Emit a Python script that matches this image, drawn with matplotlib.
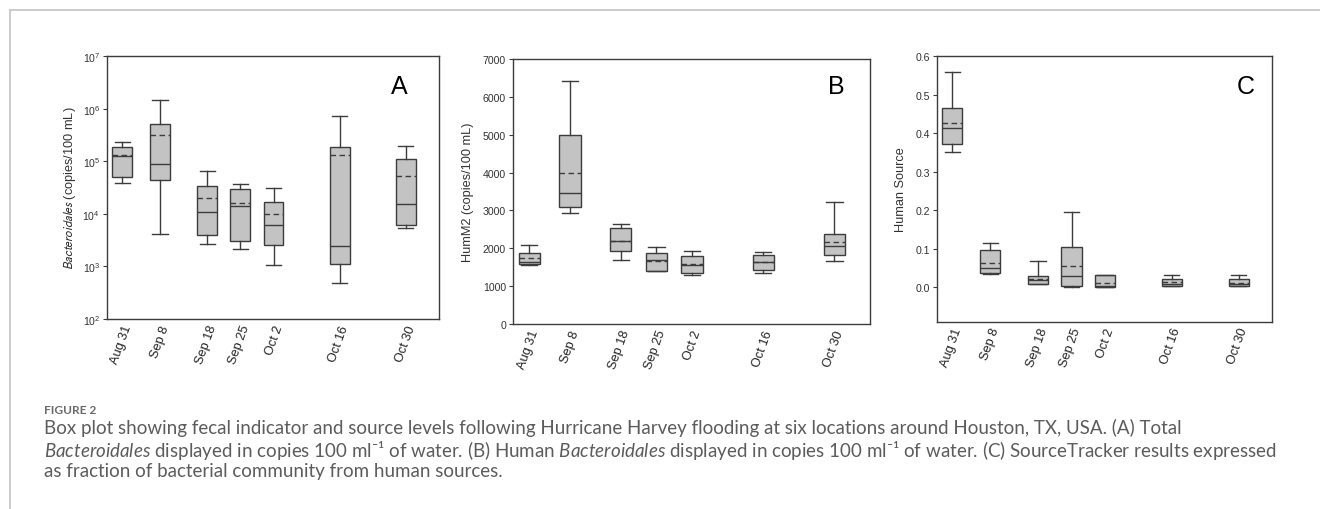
import pandas as pd
import matplotlib.pyplot as plt
from matplotlib.lines import Line2D

plt.rcParams['font.family'] = ['Liberation Sans', 'DejaVu Sans']
plt.rcParams['mathtext.fontset'] = 'custom'
plt.rcParams['mathtext.rm'] = 'Lato'
plt.rcParams['mathtext.it'] = 'Lato:italic'

# 采样日期
dates = ['2017-08-31', '2017-09-08', '2017-09-18', '2017-09-25',
         '2017-10-02', '2017-10-16', '2017-10-30']
labels = ['Aug 31', 'Sep 8', 'Sep 18', 'Sep 25', 'Oct 2', 'Oct 16', 'Oct 30']

# A: Bacteroidales (copies/100 mL)
a_whishi = [2.3e5, 1.45e6, 6.6e4, 3.77e4, 3.07e4, 7.3e5, 1.99e5]
a_q3 = [1.85e5, 5.15e5, 3.4e4, 2.94e4, 1.66e4, 1.88e5, 1.08e5]
a_mean = [1.29e5, 3.13e5, 1.98e4, 1.64e4, 9.8e3, 1.29e5, 5.27e4]
a_med = [1.27e5, 8.8e4, 1.07e4, 1.4e4, 6.15e3, 2.45e3, 1.52e4]
a_q1 = [5.1e4, 4.4e4, 4.03e3, 3.1e3, 2.6e3, 1.13e3, 6.25e3]
a_whislo = [3.9e4, 4.15e3, 2.715e3, 2.18e3, 1.065e3, 492, 5.32e3]

# B: HumM2 (copies/100 mL)
b_whishi = [2090, 6410, 2650, 2040, 1920, 1890, 3220]
b_q3 = [1865, 4980, 2525, 1885, 1805, 1825, 2370]
b_mean = [1740, 3990, 2200, 1675, 1575, 1640, 2155]
b_med = [1650, 3460, 2190, 1680, 1565, 1635, 2070]
b_q1 = [1590, 3100, 1920, 1400, 1345, 1420, 1830]
b_whislo = [1560, 2930, 1700, 1390, 1295, 1340, 1675]

# C: Human Source
c_whishi = [0.559, 0.115, 0.067, 0.195, 0.033, 0.032, 0.032]
c_q3 = [0.465, 0.097, 0.029, 0.104, 0.033, 0.0225, 0.0225]
c_mean = [0.425, 0.063, 0.022, 0.054, 0.012, 0.013, 0.012]
c_med = [0.412, 0.050, 0.018, 0.028, 0.004, 0.0095, 0.009]
c_q1 = [0.372, 0.037, 0.0095, 0.0035, 0.002, 0.0035, 0.0035]
c_whislo = [0.351, 0.035, 0.008, 0.002, 0.002, 0.003, 0.003]

d = pd.to_datetime(dates)
days = list((d - d[0]).days)

edge = '#3c3c3c'
fill = '#c3c3c3'


def make_stats(whislo, q1, med, mean, q3, whishi):
    return [dict(whislo=a, q1=b, med=c, mean=m, q3=e, whishi=f, fliers=[])
            for a, b, c, m, e, f in zip(whislo, q1, med, mean, q3, whishi)]


def draw_panel(ax, stats, letter, letter_xy):
    ax.bxp(stats, positions=days, widths=4.2, capwidths=3.2,
           showmeans=True, meanline=True, patch_artist=True,
           boxprops=dict(facecolor=fill, edgecolor=edge, linewidth=1.0),
           medianprops=dict(color=edge, linewidth=1.0),
           meanprops=dict(color=edge, linewidth=1.0, linestyle=(0, (4, 2.5))),
           whiskerprops=dict(color=edge, linewidth=1.0),
           capprops=dict(color=edge, linewidth=1.0))
    ax.set_xlim(-3.2, 67)
    ax.set_xticks(days)
    ax.set_xticklabels(labels, rotation=70, ha='right', rotation_mode='anchor',
                       fontsize=9.2, color='#222222')
    ax.tick_params(axis='x', length=0, pad=3)
    ax.tick_params(axis='y', direction='out', length=3, width=0.8,
                   labelsize=7.6, color=edge, labelcolor='#333333', pad=2)
    for s in ax.spines.values():
        s.set_color(edge)
        s.set_linewidth(1.0)
    ax.text(letter_xy[0], letter_xy[1], letter, transform=ax.transAxes,
            fontsize=18, ha='center', va='center', color='black')


fig = plt.figure(figsize=(13.2, 5.1), dpi=100)

# A
ax1 = fig.add_axes([0.0811, 0.3725, 0.2515, 0.5157])
draw_panel(ax1, make_stats(a_whislo, a_q1, a_med, a_mean, a_q3, a_whishi), 'A', (0.88, 0.886))
ax1.set_yscale('log')
ax1.set_ylim(1e2, 1e7)
ax1.minorticks_off()
ax1.set_yticks([1e2, 1e3, 1e4, 1e5, 1e6, 1e7])
ax1.set_ylabel(r'$\it{Bacteroidales}$ (copies/100 mL)', fontsize=9.2, color='#333333')
ax1.yaxis.label.set_math_fontfamily('stixsans')
ax1.yaxis.set_label_coords(-0.087, 0.5)

# B
ax2 = fig.add_axes([0.3886, 0.3627, 0.2705, 0.5196])
draw_panel(ax2, make_stats(b_whislo, b_q1, b_med, b_mean, b_q3, b_whishi), 'B', (0.907, 0.898))
ax2.set_ylim(0, 7000)
ax2.set_yticks(range(0, 7001, 1000))
ax2.set_ylabel('HumM2 (copies/100 mL)', fontsize=9.2, color='#333333')
ax2.yaxis.set_label_coords(-0.109, 0.5)

# C
ax3 = fig.add_axes([0.7098, 0.3667, 0.2538, 0.5216])
draw_panel(ax3, make_stats(c_whislo, c_q1, c_med, c_mean, c_q3, c_whishi), 'C', (0.922, 0.887))
ax3.set_ylim(-0.09, 0.6)
ax3.set_yticks([0.0, 0.1, 0.2, 0.3, 0.4, 0.5, 0.6])
ax3.set_yticklabels(['0.0', '0.1', '0.2', '0.3', '0.4', '0.5', '0.6'])
ax3.set_ylabel('Human Source', fontsize=9.2, color='#333333')
ax3.yaxis.set_label_coords(-0.09, 0.5)

# 外框
frame = '#c4c4c4'
fig.add_artist(Line2D([10 / 1320, 1.0], [1 - 11 / 510, 1 - 11 / 510],
                      transform=fig.transFigure, color=frame, linewidth=1.2))
fig.add_artist(Line2D([10 / 1320, 10 / 1320], [0.0, 1 - 11 / 510],
                      transform=fig.transFigure, color=frame, linewidth=1.2))

# 图注
cap_color = '#5c5c5c'
cap_font = ['Lato', 'DejaVu Sans']
fig.text(44 / 1320, 1 - 414 / 510, 'FIGURE 2', fontsize=8.6, fontweight='bold',
         color='#6a6a6a', family=cap_font, va='baseline')
caption = '\n'.join([
    'Box plot showing fecal indicator and source levels following Hurricane Harvey '
    'flooding at six locations around Houston, TX, USA. (A) Total',
    r'$\it{Bacteroidales}$ displayed in copies 100 ml⁻¹ of water. (B) Human '
    r'$\it{Bacteroidales}$ displayed in copies 100 ml⁻¹ of water. (C) SourceTracker results expressed',
    'as fraction of bacterial community from human sources.',
])
fig.text(44 / 1320, 1 - 419 / 510, caption, fontsize=13.5, linespacing=1.1,
         color=cap_color, family=cap_font, va='top')

fig.savefig('out.png', dpi=100)
plt.close(fig)
